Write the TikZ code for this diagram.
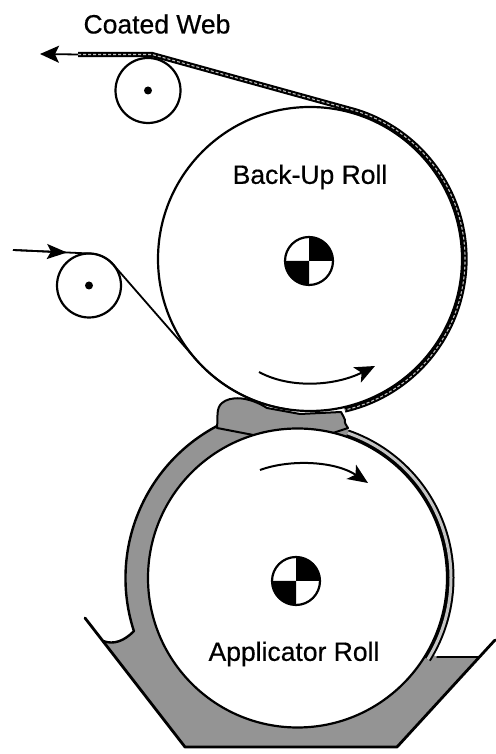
\documentclass[tikz,border=0pt]{standalone}
\usepackage{fontspec}
\setmainfont[FakeBold=0.5]{Liberation Sans}
\usetikzlibrary{arrows.meta}
\definecolor{coat}{gray}{0.58}
\tikzset{
  x=1pt,y=1pt,
  roll/.style={circle,draw=black,fill=white,line width=2.2pt,inner sep=0pt,outer sep=0pt},
  axle/.style={circle,fill=black,inner sep=0pt,minimum size=8pt},
  lbl/.style={font=\fontsize{26.5}{26.5}\selectfont,inner sep=0pt,text=black},
  edge/.style={draw=black,line width=2.8pt,line cap=round,line join=round},
  webout/.style={draw=black,line width=5.2pt,line join=round},
  webin/.style={draw=coat!60,line width=1.1pt,line join=round},
  filmout/.style={draw=black,line width=7pt},
  filmin/.style={draw=coat!55,line width=3pt},
  turn/.style={draw=black,line width=2pt,-{Stealth[length=20pt,width=17pt,inset=5pt]}},
  feed/.style={draw=black,line width=1.8pt}
}
\begin{document}
\begin{tikzpicture}
\useasboundingbox (0,0) rectangle (495,754);
\fill[white] (0,0) rectangle (495,754);
% named positions
\coordinate (bc) at (310,495);
\coordinate (ac) at (297.5,176);
\coordinate (bm) at (309,493);
\coordinate (am) at (296,173);
\coordinate (wallL) at (85,136);
\coordinate (wallLb) at (185,7);
\coordinate (wallRb) at (397,7);
\coordinate (wallR) at (495,114);
\coordinate (menL) at (103,113);
\coordinate (poolR) at (478,97);
\coordinate (poolL) at (437,97);
% coating and pan fluid
\fill[coat] (ac) ++(118:172) arc[start angle=118,end angle=198,radius=172]
  .. controls (124,113) and (114,109) .. (menL)
  -- (wallLb) -- (wallRb) -- (poolR) -- (poolL) -- (ac) -- cycle;
\draw[edge,line width=2.4pt] (ac) ++(118:172) arc[start angle=118,end angle=198,radius=172]
  .. controls (124,113) and (114,109) .. (menL);
\draw[edge] (wallL) -- (wallLb) -- (wallRb) -- (wallR);
\draw[edge,line width=1.8pt] (poolR) -- (poolL);
% nip puddle
\coordinate (tip) at (345,334);
\fill[coat] (217,326) -- (217,300) -- (348,300) -- (348,326) -- cycle;
\filldraw[fill=coat,draw=black,line width=2pt,line join=round]
  (217,326) .. controls (218,338) and (216,346) .. (222,351)
  .. controls (230,358) and (248,358) .. (267,346)
  -- (300,340) -- (341,342)
  .. controls (343,339) and (344,336) .. (tip)
  .. controls (344,332) and (346,329) .. (348,326)
  -- (300,310) -- cycle;
% film on the applicator roll
\draw[filmout] (ac) ++(71:153.5) arc[start angle=71,end angle=-32,radius=153.5];
\draw[filmin] (ac) ++(71:153.5) arc[start angle=71,end angle=-32,radius=153.5];
% rolls
\node[roll,minimum size=299pt] (app) at (ac) {};
\node[roll,minimum size=304pt] (back) at (bc) {};
\node[roll,minimum size=65pt] (idleA) at (148,663.5) {};
\node[roll,minimum size=64pt] (idleB) at (89,468.5) {};
\node[axle] (axA) at (idleA) {};
\node[axle] (axB) at (idleB) {};
% centre marks
\foreach \c in {bm,am}{
  \fill[white] (\c) circle[radius=24];
  \fill[black] (\c) -- ++(0:24) arc[start angle=0,end angle=90,radius=24] -- cycle;
  \fill[black] (\c) -- ++(180:24) arc[start angle=180,end angle=270,radius=24] -- cycle;
  \draw[black,line width=2.2pt] (\c) circle[radius=24];
}
% coated web
\coordinate (webL) at (78,699.5);
\coordinate (webA) at (152,699.5);
\path (bc) ++(73:155) coordinate (webB);
\draw[webout] (webL) -- (webA) -- (webB) arc[start angle=73,end angle=-77,radius=155];
\draw[webin,densely dashed] (webL) -- (webA) -- (webB) arc[start angle=73,end angle=-77,radius=155];
\coordinate (outTip) at (40,700);
\draw[feed,-{Stealth[length=19pt,width=17pt,inset=4pt]}] (webL) -- (outTip);
% incoming web
\coordinate (inS) at (13,504);
\coordinate (inH) at (67,501.5);
\coordinate (inA) at (89,500.5);
\path (bc) ++(221.1:152) coordinate (inD);
\draw[feed] (inS) -- (inA) arc[start angle=90,end angle=41.1,radius=32] -- (inD)
  arc[start angle=221.1,end angle=262,radius=152];
\draw[feed,-{Stealth[length=20pt,width=15pt,inset=4pt]}] (inS) -- (inH);
% rotation arrows
\coordinate (ta) at (259,382);
\coordinate (tb) at (375,388);
\draw[turn] (ta) .. controls (290,365) and (335,368) .. (tb);
\coordinate (tc) at (260,284);
\coordinate (td) at (368,271);
\draw[turn] (tc) .. controls (290,295) and (335,293) .. (td);
% labels
\node[lbl] (coated) at (157,730) {Coated Web};
\node[lbl] (backlbl) at (310,577) {Back-Up Roll};
\node[lbl] (applbl) at (294,100) {Applicator Roll};
\end{tikzpicture}
\end{document}
